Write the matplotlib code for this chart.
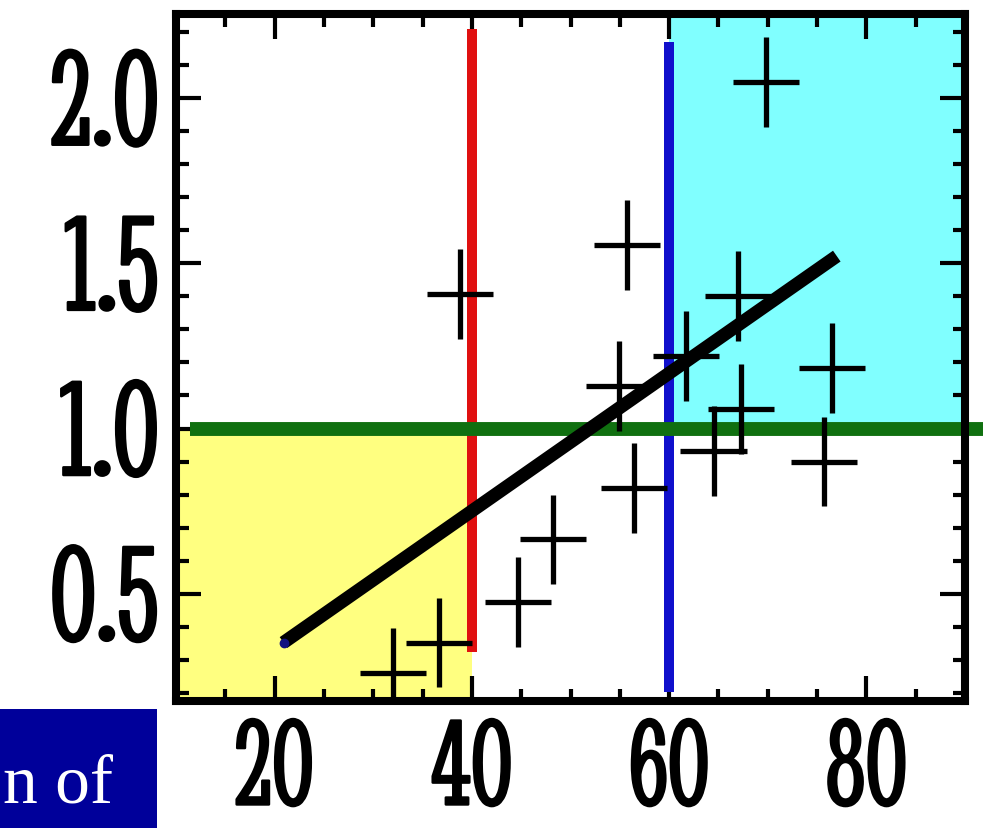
import matplotlib
matplotlib.use("Agg")
import matplotlib.pyplot as plt
from matplotlib.ticker import MultipleLocator, FixedLocator
from matplotlib.patches import Rectangle
import matplotlib.patheffects as pe

# ---- data ----
pts_x = [69.8, 55.7, 38.8, 67.0, 61.7, 54.9, 67.3, 76.5, 64.5, 75.7, 56.4, 48.2, 44.7, 36.7, 32.0]
pts_y = [2.05, 1.555, 1.407, 1.40, 1.219, 1.128, 1.058, 1.182, 0.931, 0.90, 0.819, 0.664, 0.476, 0.352, 0.261]
fit_x = [20.9, 77.0]
fit_y = [0.352, 1.522]
red_x = [40, 40]
red_y = [0.322, 2.21]
blue_x = [60, 60]
blue_y = [0.203, 2.17]
green_x = [11.4, 91.8]
green_y = [1.0, 1.0]
yellow_x = [10, 40]
yellow_y = [0.175, 1.0]
cyan_x = [60, 90]
cyan_y = [1.0, 2.255]
xticks = [20, 40, 60, 80]
xtick_labels = ["20", "40", "60", "80"]
yticks = [0.5, 1.0, 1.5, 2.0]
ytick_labels = ["0.5", "1.0", "1.5", "2.0"]
box_text = "n of"

W, H = 986, 829
fig = plt.figure(figsize=(W / 100, H / 100), dpi=100)
ax = fig.add_axes([176 / W, 1 - 702 / H, 789 / W, 687 / H])
ax.set_xlim(10, 90)
ax.set_ylim(0.175, 2.255)

ax.fill_between(yellow_x, yellow_y[0], yellow_y[1], color="#FFFF80", lw=0, zorder=0)
ax.fill_between(cyan_x, cyan_y[0], cyan_y[1], color="#80FFFF", lw=0, zorder=0)

ax.plot(red_x, red_y, color="#E01010", lw=7.2, solid_capstyle="butt", zorder=2)
ax.plot(blue_x, blue_y, color="#1010CC", lw=7.2, solid_capstyle="butt", zorder=2)
ax.plot(green_x, green_y, color="#107010", lw=10, solid_capstyle="butt", zorder=2, clip_on=False)

ax.errorbar(pts_x, pts_y, xerr=3.35, yerr=0.136, fmt="none", ecolor="black",
            elinewidth=3.8, capsize=0, zorder=4)

ax.plot(fit_x, fit_y, color="black", lw=9.5, solid_capstyle="butt", zorder=5)
ax.plot(fit_x[:1], fit_y[:1], "o", color="#101080", ms=6, zorder=6)

for s in ax.spines.values():
    s.set_linewidth(5.8)
    s.set_color("black")
    s.set_zorder(10)

ax.xaxis.set_major_locator(FixedLocator(xticks))
ax.yaxis.set_major_locator(FixedLocator(yticks))
ax.xaxis.set_minor_locator(MultipleLocator(5))
ax.yaxis.set_minor_locator(MultipleLocator(0.1))
ax.set_xticklabels(xtick_labels)
ax.set_yticklabels(ytick_labels)
ax.tick_params(which="both", direction="in", top=True, right=True, color="black", width=3)
ax.tick_params(which="major", length=18)
ax.tick_params(which="minor", length=9)
ax.tick_params(axis="y", which="major", pad=12)
ax.tick_params(axis="x", which="major", pad=14)

stroke = [pe.withStroke(linewidth=1.8, foreground="black")]
for lab in ax.get_yticklabels():
    lab.set_fontfamily(["Stint Ultra Condensed", "DejaVu Serif"])
    lab.set_fontsize(100)
    lab.set_color("black")
    lab.set_path_effects(stroke)
for lab in ax.get_xticklabels():
    lab.set_fontfamily(["Stint Ultra Condensed", "DejaVu Serif"])
    lab.set_fontsize(90)
    lab.set_color("black")
    lab.set_path_effects(stroke)

fig.patches.append(Rectangle((0, 0), 157 / W, (H - 710) / H, transform=fig.transFigure,
                             facecolor="#00009A", edgecolor="none", zorder=0))
fig.text(3 / W, (H - 803) / H, box_text, color="white", family="Liberation Serif",
         fontsize=50, ha="left", va="baseline")

fig.savefig("out.png", dpi=100)
